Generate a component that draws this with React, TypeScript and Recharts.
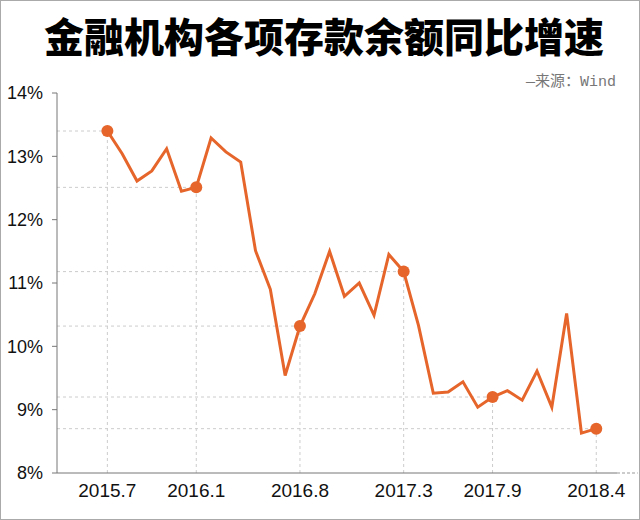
import { LineChart, Line, XAxis, YAxis, ReferenceLine } from "recharts";

const months = [
  "2015.7", "2015.8", "2015.9", "2015.10", "2015.11", "2015.12",
  "2016.1", "2016.2", "2016.3", "2016.4", "2016.5", "2016.6", "2016.7",
  "2016.8", "2016.9", "2016.10", "2016.11", "2016.12",
  "2017.1", "2017.2", "2017.3", "2017.4", "2017.5", "2017.6", "2017.7",
  "2017.8", "2017.9", "2017.10", "2017.11", "2017.12",
  "2018.1", "2018.2", "2018.3", "2018.4",
];

// 存款余额同比增速 (%)
const growth = [
  13.4, 13.04, 12.61, 12.77, 13.12, 12.45,
  12.51, 13.29, 13.07, 12.91, 11.51, 10.9, 9.54,
  10.32, 10.83, 11.5, 10.79, 11.0,
  10.49, 11.45, 11.18, 10.33, 9.26, 9.28, 9.44,
  9.04, 9.2, 9.3, 9.15, 9.61,
  9.04, 10.52, 8.63, 8.7,
];

const tickMonths = ["2015.7", "2016.1", "2016.8", "2017.3", "2017.9", "2018.4"];
const yTicks = [8, 9, 10, 11, 12, 13, 14];

const ORANGE = "#E5652A";
const X_MIN = -3.4;
const X_MAX = 34.4;

export default function App() {
  const data = months.map((m, i) => ({ idx: i, month: m, value: growth[i] }));
  const markIdx = tickMonths.map((m) => months.indexOf(m));

  return (
    <div
      style={{
        position: "absolute",
        left: 0,
        top: 0,
        width: 638,
        height: 518,
        border: "1px solid #aaa",
        background: "#fff",
      }}
    >
      <div style={{ position: "absolute", left: -1, top: -1 }}>
        <LineChart
          width={640}
          height={520}
          data={data}
          margin={{ top: 93, right: 23, bottom: 17, left: 0 }}
        >
          <XAxis
            dataKey="idx"
            type="number"
            domain={[X_MIN, X_MAX]}
            ticks={markIdx}
            tickFormatter={(v: number) => months[v]}
            allowDataOverflow
            height={30}
            tickLine={false}
            tickSize={0}
            tickMargin={11}
            axisLine={{ stroke: "#777" }}
            tick={{ fill: "#111", fontSize: 19, fontFamily: "Liberation Sans, Arial, sans-serif" }}
          />
          <YAxis
            domain={[8, 14]}
            ticks={yTicks}
            width={57}
            tickSize={5}
            tickMargin={9}
            tickFormatter={(v: number) => `${v}%`}
            axisLine={{ stroke: "#777" }}
            tickLine={{ stroke: "#777" }}
            tick={{ fill: "#111", fontSize: 18, fontFamily: "Liberation Sans, Arial, sans-serif" }}
          />
          {markIdx.map((i) => (
            <ReferenceLine
              key={`h${i}`}
              segment={[
                { x: X_MIN, y: growth[i] },
                { x: i, y: growth[i] },
              ]}
              stroke="#ccc"
              strokeDasharray="3 3"
            />
          ))}
          {markIdx.map((i) => (
            <ReferenceLine
              key={`v${i}`}
              segment={[
                { x: i, y: 8 },
                { x: i, y: growth[i] },
              ]}
              stroke="#ccc"
              strokeDasharray="3 3"
            />
          ))}
          <ReferenceLine
            segment={[
              { x: X_MAX, y: 8 },
              { x: X_MAX + 1.4, y: 8 },
            ]}
            ifOverflow="visible"
            stroke="#999"
            strokeDasharray="3 2"
          />
          <Line
            type="linear"
            dataKey="value"
            stroke={ORANGE}
            strokeWidth={3}
            isAnimationActive={false}
            activeDot={false}
            dot={(props: any) =>
              markIdx.includes(props.index) ? (
                <circle key={props.index} cx={props.cx} cy={props.cy} r={6} fill={ORANGE} />
              ) : (
                <g key={props.index} />
              )
            }
          />
        </LineChart>
      </div>
      <svg
        width={640}
        height={110}
        style={{ position: "absolute", left: -1, top: -1, pointerEvents: "none" }}
      >
        <text
          x={324}
          y={52}
          textAnchor="middle"
          fontSize={40}
          fontWeight={900}
          fill="#000"
          fontFamily="'Noto Sans CJK SC', sans-serif"
        >
          金融机构各项存款余额同比增速
        </text>
        <text
          x={616}
          y={86}
          textAnchor="end"
          fontSize={15}
          fill="#777"
          fontFamily="'Liberation Mono', 'Noto Sans CJK SC', monospace"
        >
          —来源：Wind
        </text>
      </svg>
    </div>
  );
}
